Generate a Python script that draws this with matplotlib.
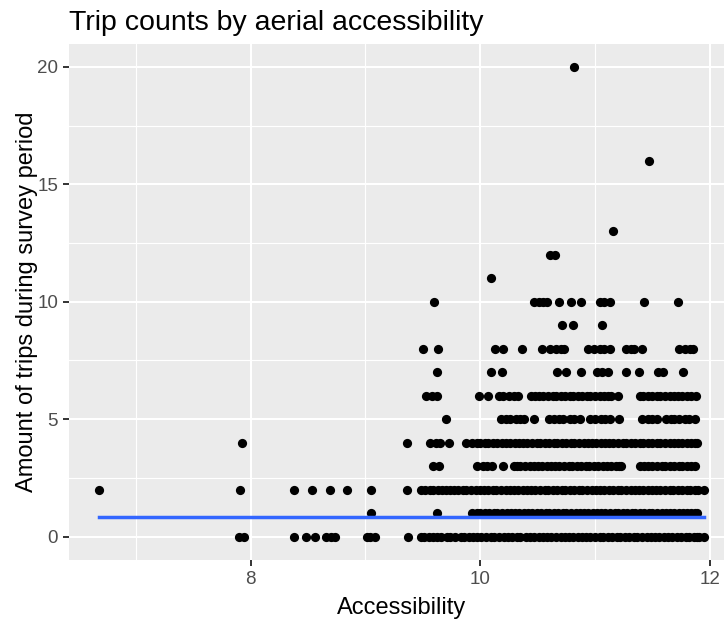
import numpy as np
import matplotlib
matplotlib.use("Agg")
import matplotlib.pyplot as plt
from matplotlib.ticker import MultipleLocator

plt.rcParams["font.family"] = ["Liberation Sans", "DejaVu Sans"]

# accessibility score of each trip record, grouped by trip count
acc_0 = [7.90, 7.94, 8.38, 8.48, 8.56, 8.66, 8.70, 8.73, 9.01, 9.04, 9.08, 9.37,
         9.48, 9.51, 9.55, 9.59, 9.62, 9.66, 9.71, 9.74, 9.78, 9.83, 9.86, 9.90,
         9.94, 9.97, 10.01, 10.05, 10.09, 10.12, 10.16, 10.21, 10.24, 10.28, 10.32,
         10.35, 10.40, 10.43, 10.47, 10.51, 10.55, 10.58, 10.62, 10.66, 10.70, 10.74,
         10.77, 10.81, 10.85, 10.89, 10.92, 10.96, 11.00, 11.04, 11.07, 11.11, 11.15,
         11.19, 11.22, 11.26, 11.30, 11.34, 11.37, 11.41, 11.45, 11.49, 11.52, 11.56,
         11.60, 11.64, 11.67, 11.71, 11.75, 11.79, 11.82, 11.86, 11.89, 11.91, 11.95]
acc_1 = [9.05, 9.62,
         9.93, 9.97, 10.00, 10.04, 10.08, 10.12, 10.15, 10.19, 10.23, 10.27, 10.30,
         10.34, 10.38, 10.42, 10.45, 10.49, 10.53, 10.57, 10.60, 10.64, 10.68, 10.72,
         10.75, 10.79, 10.83, 10.87, 10.90, 10.94, 10.98, 11.02, 11.05, 11.09, 11.13,
         11.17, 11.20, 11.24, 11.28, 11.32, 11.35, 11.39, 11.43, 11.47, 11.50, 11.54,
         11.58, 11.62, 11.65, 11.69, 11.73, 11.77, 11.80, 11.84, 11.87, 11.89]
acc_2 = [6.68, 7.91, 8.38, 8.53, 8.69, 8.84, 9.05, 9.36,
         9.48, 9.52, 9.56, 9.59, 9.63, 9.67, 9.70, 9.74, 9.77, 9.81, 9.85, 9.88,
         9.92, 9.96, 10.00, 10.03, 10.07, 10.11, 10.14, 10.18, 10.22, 10.26, 10.29,
         10.33, 10.37, 10.41, 10.44, 10.48, 10.52, 10.56, 10.59, 10.63, 10.67, 10.71,
         10.74, 10.78, 10.82, 10.86, 10.89, 10.93, 10.97, 11.01, 11.04, 11.08, 11.12,
         11.16, 11.20, 11.23, 11.27, 11.31, 11.35, 11.38, 11.42, 11.46, 11.50, 11.53,
         11.57, 11.61, 11.65, 11.68, 11.72, 11.76, 11.80, 11.83, 11.87, 11.90, 11.95]
acc_3 = [9.59, 9.64, 9.97, 10.02, 10.06, 10.10, 10.20, 10.29, 10.32, 10.35,
         10.39, 10.43, 10.47, 10.50, 10.54, 10.58, 10.62, 10.65, 10.69, 10.73, 10.77,
         10.80, 10.84, 10.88, 10.92, 10.95, 10.99, 11.03, 11.07, 11.10, 11.14, 11.18,
         11.21, 11.23,
         11.39, 11.43, 11.46, 11.50, 11.54, 11.58, 11.61, 11.65, 11.69, 11.73, 11.76,
         11.80, 11.84, 11.87]
acc_4 = [7.92, 9.36, 9.56, 9.61, 9.65, 9.73, 9.88, 9.93, 9.97,
         10.00, 10.04, 10.07, 10.11, 10.15, 10.19, 10.22, 10.26, 10.30, 10.34, 10.37,
         10.41, 10.45, 10.49, 10.52, 10.56, 10.60, 10.64, 10.67, 10.71, 10.75, 10.79,
         10.82, 10.86, 10.90, 10.94, 10.97, 11.01, 11.05, 11.09, 11.12, 11.16, 11.20,
         11.24, 11.27, 11.31, 11.35, 11.39, 11.42, 11.46, 11.50, 11.54, 11.57, 11.61,
         11.65, 11.69, 11.72, 11.76, 11.80, 11.84, 11.87, 11.89]
acc_5 = [9.70, 10.18, 10.22, 10.26, 10.31, 10.35, 10.38, 10.47, 10.60, 10.64, 10.69,
         10.72, 10.78, 10.82, 10.87, 10.96, 11.00, 11.05, 11.09, 11.13, 11.21, 11.41,
         11.46, 11.50, 11.54, 11.62, 11.66, 11.69, 11.73, 11.78, 11.82, 11.87]
acc_6 = [9.53, 9.58, 9.62, 9.99, 10.07, 10.16, 10.20, 10.25, 10.29, 10.33,
         10.44, 10.48, 10.51, 10.55, 10.59, 10.63, 10.66, 10.70, 10.74, 10.78, 10.81,
         10.85, 10.89, 10.93, 10.96, 11.00, 11.04, 11.08, 11.11, 11.14, 11.20,
         11.39, 11.42, 11.46, 11.50, 11.54, 11.57, 11.61, 11.65, 11.69, 11.72, 11.76,
         11.80, 11.84, 11.88]
acc_7 = [9.62, 10.09, 10.19, 10.67, 10.75, 10.88, 11.02, 11.06, 11.11, 11.27, 11.38,
         11.55, 11.59, 11.77]
acc_8 = [9.50, 9.63, 10.13, 10.20, 10.36, 10.54, 10.61, 10.66, 10.70, 10.73, 10.94,
         10.99, 11.04, 11.08, 11.13, 11.27, 11.31, 11.34, 11.41, 11.73, 11.78, 11.83,
         11.85]
acc_9 = [10.71, 10.81, 11.06]
acc_10 = [9.60, 10.47, 10.51, 10.55, 10.58, 10.69, 10.79, 10.88, 11.04, 11.08, 11.13,
          11.43, 11.72]
acc_11 = [10.09]
acc_12 = [10.61, 10.65]
acc_13 = [11.16]
acc_16 = [11.47]
acc_20 = [10.82]

trip_levels = [0, 1, 2, 3, 4, 5, 6, 7, 8, 9, 10, 11, 12, 13, 16, 20]
acc_groups = [acc_0, acc_1, acc_2, acc_3, acc_4, acc_5, acc_6, acc_7, acc_8,
              acc_9, acc_10, acc_11, acc_12, acc_13, acc_16, acc_20]

# fitted trend value (flat across the range)
fit_level = 0.84

x = np.concatenate([np.asarray(g, float) for g in acc_groups])
y = np.concatenate([np.full(len(g), lvl, float) for g, lvl in zip(acc_groups, trip_levels)])

W, H = 724, 625
fig = plt.figure(figsize=(W / 100, H / 100), dpi=100)
fig.patch.set_facecolor("white")

# panel box in pixels: left, right, top, bottom (right edge runs past the canvas)
pl, pr, pt, pb = 69, 734.3, 43.5, 560
ax = fig.add_axes([pl / W, 1 - pb / H, (pr - pl) / W, (pb - pt) / H])
ax.set_facecolor("#EBEBEB")

xr = x.max() - x.min()
ax.set_xlim(x.min() - 0.05 * xr, x.max() + 0.05 * xr)
ax.set_ylim(-1, 21)

ax.xaxis.set_major_locator(MultipleLocator(2))
ax.xaxis.set_minor_locator(MultipleLocator(1))
ax.yaxis.set_major_locator(MultipleLocator(5))
ax.yaxis.set_minor_locator(MultipleLocator(2.5))

ax.grid(which="major", color="white", linewidth=1.5)
ax.grid(which="minor", color="white", linewidth=0.8)
ax.set_axisbelow(True)
for s in ax.spines.values():
    s.set_visible(False)

ax.tick_params(which="major", length=4.3, width=1.4, color="#333333",
               labelsize=13.5, labelcolor="#4D4D4D", pad=3.5)
ax.tick_params(which="minor", length=0)

ax.scatter(x, y, s=44, color="black", linewidths=0, zorder=3)
ax.plot([x.min(), x.max()], [fit_level, fit_level], color="#3366FF", lw=2.5, zorder=4)

fig.text(pl / W, 1 - 30 / H, "Trip counts by aerial accessibility", fontsize=20.5,
         ha="left", va="baseline", color="black")
fig.text((pl + pr) / 2 / W, 1 - 614 / H, "Accessibility", fontsize=17,
         ha="center", va="baseline", color="black")
fig.text(33 / W, 1 - (pt + pb) / 2 / H, "Amount of trips during survey period",
         fontsize=17, rotation=90, rotation_mode="anchor", ha="center",
         va="baseline", color="black")

fig.savefig("out.png", dpi=100)
